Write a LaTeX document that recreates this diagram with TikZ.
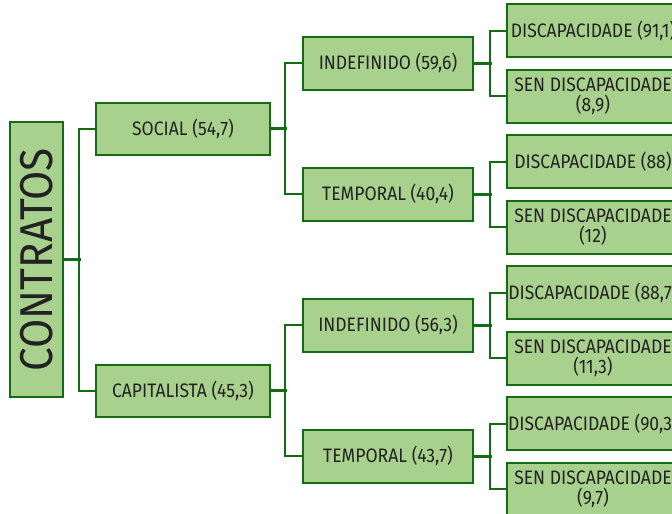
\documentclass[tikz,border=0pt]{standalone}
\usepackage{fontspec}
\newfontfamily\boxfont[FakeStretch=0.9]{Fira Sans}
\newfontfamily\rootfont[FakeStretch=0.92]{Fira Sans}
\definecolor{leaf}{HTML}{A9D18E}
\definecolor{stem}{HTML}{156B15}
\definecolor{ink}{HTML}{222222}

\tikzset{
  box/.style={draw=stem, fill=leaf, line width=2pt, text=ink, align=center,
    inner sep=0pt, font={\boxfont\fontsize{19.5}{20}\selectfont}},
  lvone/.style={box, minimum width=174pt, minimum height=52pt},
  lvtwo/.style={box, minimum width=170pt, minimum height=53pt},
  lvthree/.style={box, minimum width=172pt, minimum height=53pt},
  branch/.style={draw=stem, line width=2pt},
  stub/.style={draw=stem, line width=3pt}
}

\begin{document}
\begin{tikzpicture}[x=1pt, y=-1pt]
  \useasboundingbox (0,0) rectangle (672,514);

  % root
  \node[box, minimum width=53pt, minimum height=275pt] (contr) at (36.5,259.75)
    {\rotatebox{90}{\rootfont\fontsize{46}{46}\selectfont CONTRATOS}};

  % first level
  \node[lvone] (soc) at (183,128.75) {SOCIAL (54,7)};
  \node[lvone] (cap) at (183,390.75) {CAPITALISTA (45,3)};

  % second level
  \node[lvtwo] (sind) at (388,63.25) {INDEFINIDO (59,6)};
  \node[lvtwo] (stmp) at (388,194.25) {TEMPORAL (40,4)};
  \node[lvtwo] (cind) at (388,325.25) {INDEFINIDO (56,3)};
  \node[lvtwo] (ctmp) at (388,456.25) {TEMPORAL (43,7)};

  % third level
  \node[lvthree] (d1) at (593,30.5) {DISCAPACIDADE (91,1)};
  \node[lvthree] (s1) at (593,96) {SEN DISCAPACIDADE\\(8,9)};
  \node[lvthree] (d2) at (593,161.5) {DISCAPACIDADE (88)};
  \node[lvthree] (s2) at (593,227) {SEN DISCAPACIDADE\\(12)};
  \node[lvthree] (d3) at (593,292.5) {DISCAPACIDADE (88,7)};
  \node[lvthree] (s3) at (593,358) {SEN DISCAPACIDADE\\(11,3)};
  \node[lvthree] (d4) at (593,423.5) {DISCAPACIDADE (90,3)};
  \node[lvthree] (s4) at (593,489) {SEN DISCAPACIDADE\\(9,7)};

  % connectors
  \draw[stub] (contr.east) -- ++(17,0);
  \draw[branch] (soc.west) -- ++(-16,0) |- (cap.west);

  \foreach \p/\a/\b in {soc/sind/stmp, cap/cind/ctmp}{
    \draw[stub] (\p.east) -- ++(16,0);
    \draw[branch] (\a.west) -- ++(-17,0) |- (\b.west);
  }

  \foreach \p/\a/\b in {sind/d1/s1, stmp/d2/s2, cind/d3/s3, ctmp/d4/s4}{
    \draw[stub] (\p.east) -- ++(18,0);
    \draw[branch] (\a.west) -- ++(-16,0) |- (\b.west);
  }
\end{tikzpicture}
\end{document}
